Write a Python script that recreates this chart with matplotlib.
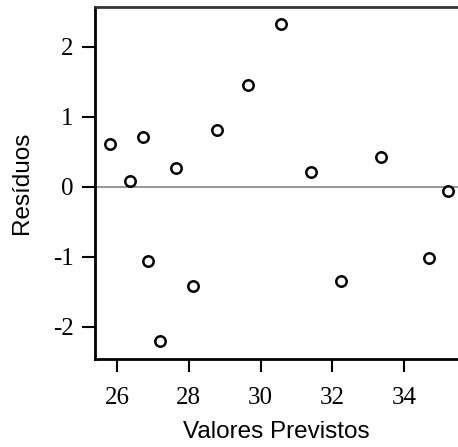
import numpy as np
import matplotlib
matplotlib.use("Agg")
import matplotlib.pyplot as plt

# predicted values and residuals
previstos = [25.80, 26.36, 26.72, 26.86, 27.20, 27.64, 28.12, 28.79,
             29.65, 30.57, 31.40, 32.24, 33.35, 34.69, 35.22]
residuos = [0.61, 0.08, 0.71, -1.06, -2.20, 0.27, -1.41, 0.81,
            1.45, 2.33, 0.21, -1.34, 0.43, -1.01, -0.06]
xticks = [26, 28, 30, 32, 34]
yticks = [-2, -1, 0, 1, 2]

plt.rcParams["axes.unicode_minus"] = False

fig = plt.figure(figsize=(4.58, 4.47), dpi=100)
ax = fig.add_axes([0.2074, 0.1969, 0.7926, 0.7874])

ax.axhline(0, color="#999999", lw=1.5, zorder=1)
ax.plot(previstos, residuos, "o", ms=7.5, mfc="white", mec="black", mew=1.8, zorder=3)

ax.set_xlim(25.387, 35.5)
ax.set_ylim(-2.457, 2.571)
ax.set_xticks(xticks)
ax.set_yticks(yticks)
ax.tick_params(direction="out", length=9.5, width=1.5, labelsize=18)
ax.tick_params(axis="x", pad=11)
ax.tick_params(axis="y", pad=6)
for lab in ax.get_xticklabels() + ax.get_yticklabels():
    lab.set_family("Liberation Serif")

ax.spines["right"].set_visible(False)
ax.spines["left"].set_linewidth(2)
ax.spines["bottom"].set_linewidth(2)
ax.spines["top"].set_linewidth(2)
ax.spines["top"].set_color("#333333")

ax.set_xlabel("Valores Previstos", family="Liberation Sans", fontsize=17.5, labelpad=8)
ax.set_ylabel("Resíduos", family="Liberation Sans", fontsize=17.5, labelpad=14)

fig.savefig("out.png", dpi=100)
